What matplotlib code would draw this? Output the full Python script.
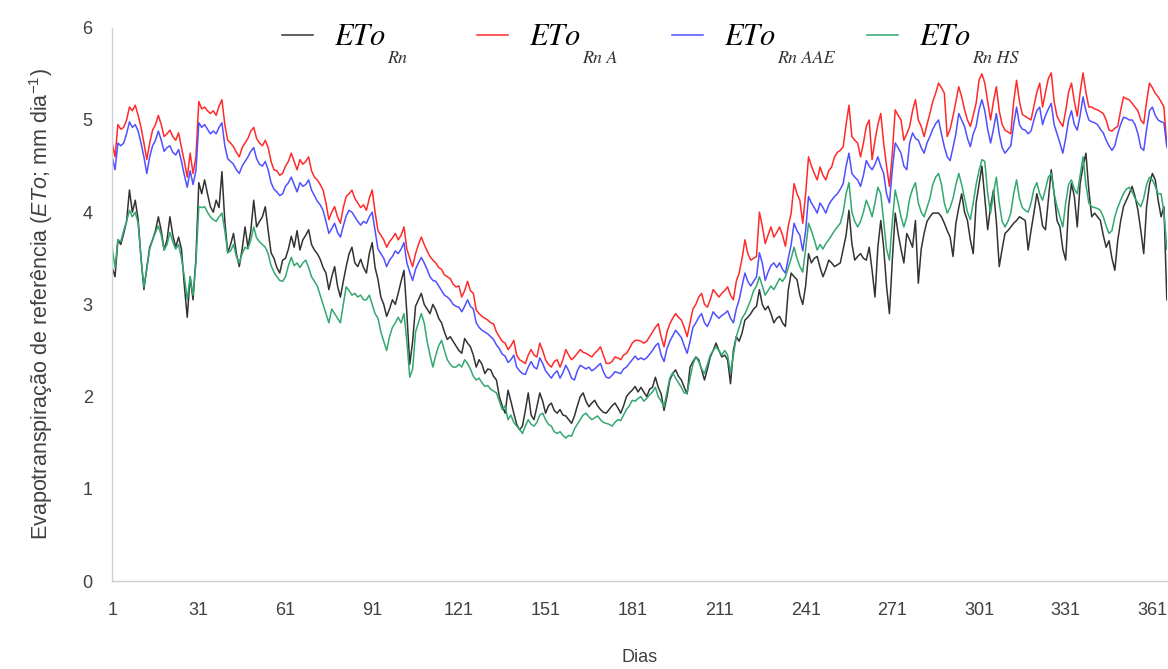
import numpy as np
import matplotlib
matplotlib.use("Agg")
import matplotlib.pyplot as plt

# daily reference evapotranspiration (mm/day), days 1..366
days = np.arange(1, 367)

eto_rn = [
    3.4, 3.3, 3.7, 3.65, 3.77, 3.9, 4.24, 4.0, 4.13, 3.92,
    3.5, 3.16, 3.4, 3.62, 3.7, 3.8, 3.95, 3.8, 3.59, 3.7,
    3.95, 3.75, 3.62, 3.73, 3.6, 3.2, 2.86, 3.3, 3.05, 3.5,
    4.32, 4.2, 4.35, 4.2, 4.06, 4.0, 4.13, 4.05, 4.44, 3.9,
    3.56, 3.65, 3.77, 3.55, 3.41, 3.6, 3.84, 3.62, 3.8, 4.13,
    3.84, 3.9, 3.95, 4.06, 3.8, 3.56, 3.5, 3.4, 3.34, 3.48,
    3.5, 3.6, 3.74, 3.62, 3.8, 3.59, 3.7, 3.75, 3.81, 3.65,
    3.59, 3.55, 3.49, 3.4, 3.34, 3.16, 3.3, 3.41, 3.2, 3.08,
    3.25, 3.41, 3.55, 3.62, 3.45, 3.41, 3.49, 3.4, 3.34, 3.55,
    3.67, 3.4, 3.27, 3.08, 3.0, 2.87, 2.95, 3.05, 3.0, 3.12,
    3.25, 3.37, 2.9, 2.35, 2.6, 2.98, 3.05, 3.12, 3.0, 2.95,
    2.9, 3.0, 2.94, 2.85, 2.8, 2.7, 2.62, 2.65, 2.6, 2.55,
    2.5, 2.47, 2.63, 2.58, 2.54, 2.45, 2.32, 2.4, 2.35, 2.25,
    2.3, 2.29, 2.22, 2.18, 2.0, 1.9, 1.82, 2.07, 1.95, 1.82,
    1.7, 1.64, 1.68, 1.85, 2.04, 1.8, 1.75, 1.89, 2.04, 1.95,
    1.82, 1.9, 1.93, 1.85, 1.82, 1.86, 1.8, 1.79, 1.75, 1.71,
    1.79, 1.9, 2.0, 2.04, 1.95, 1.89, 1.93, 1.96, 1.9, 1.86,
    1.83, 1.82, 1.86, 1.9, 1.93, 1.88, 1.82, 1.9, 2.0, 2.04,
    2.07, 2.11, 2.05, 2.1, 2.05, 2.0, 2.08, 2.1, 2.21, 2.1,
    2.03, 1.85, 2.0, 2.18, 2.25, 2.29, 2.22, 2.18, 2.1, 2.03,
    2.32, 2.38, 2.43, 2.4, 2.29, 2.18, 2.3, 2.43, 2.5, 2.58,
    2.5, 2.43, 2.45, 2.4, 2.14, 2.5, 2.65, 2.6, 2.69, 2.83,
    2.86, 2.9, 2.95, 2.98, 3.16, 3.0, 2.94, 2.98, 2.9, 2.8,
    2.85, 2.87, 2.8, 2.76, 3.16, 3.34, 3.3, 3.27, 3.1, 3.0,
    3.2, 3.55, 3.45, 3.5, 3.52, 3.4, 3.3, 3.38, 3.48, 3.45,
    3.41, 3.43, 3.45, 3.6, 3.75, 4.02, 3.66, 3.48, 3.52, 3.55,
    3.5, 3.48, 3.62, 3.37, 3.08, 3.62, 3.91, 3.62, 3.2, 2.9,
    3.48, 3.99, 3.77, 3.6, 3.45, 3.77, 3.7, 3.62, 3.91, 3.23,
    3.6, 3.77, 3.9, 3.95, 3.99, 3.99, 3.99, 3.95, 3.88, 3.8,
    3.73, 3.52, 3.88, 4.05, 4.2, 4.0, 3.91, 3.7, 3.55, 4.1,
    4.3, 4.5, 4.15, 3.81, 4.06, 4.24, 3.9, 3.41, 3.6, 3.77,
    3.8, 3.84, 3.88, 3.91, 3.95, 3.93, 3.91, 3.59, 3.8, 3.99,
    4.2, 4.06, 3.85, 3.81, 4.13, 4.46, 4.2, 3.91, 3.84, 3.6,
    3.48, 4.06, 4.31, 4.17, 3.84, 4.31, 4.5, 4.64, 4.24, 3.95,
    3.99, 3.95, 3.91, 3.75, 3.62, 3.69, 3.5, 3.37, 3.69, 3.9,
    4.06, 4.13, 4.2, 4.28, 4.17, 4.02, 3.8, 3.55, 4.06, 4.3,
    4.42, 4.35, 4.13, 3.95, 4.06, 3.05,
]

eto_rn_a = [
    4.75, 4.6, 4.95, 4.9, 4.92, 5.0, 5.14, 5.1, 5.16, 5.05,
    4.92, 4.75, 4.57, 4.75, 4.89, 4.95, 5.05, 4.95, 4.82, 4.85,
    4.89, 4.82, 4.78, 4.86, 4.7, 4.55, 4.38, 4.64, 4.42, 4.6,
    5.2, 5.12, 5.14, 5.1, 5.07, 5.1, 5.05, 5.15, 5.22, 4.95,
    4.78, 4.75, 4.71, 4.65, 4.6, 4.7, 4.75, 4.8, 4.88, 4.92,
    4.8, 4.75, 4.72, 4.78, 4.7, 4.55, 4.46, 4.45, 4.4, 4.42,
    4.5, 4.55, 4.64, 4.55, 4.46, 4.57, 4.52, 4.55, 4.6, 4.45,
    4.38, 4.35, 4.3, 4.24, 4.1, 3.92, 4.0, 4.06, 3.95, 3.88,
    4.05, 4.17, 4.2, 4.24, 4.15, 4.1, 4.05, 4.08, 4.02, 4.15,
    4.24, 4.0, 3.8, 3.75, 3.7, 3.62, 3.68, 3.72, 3.77, 3.7,
    3.75, 3.84, 3.6, 3.5, 3.41, 3.55, 3.65, 3.73, 3.65, 3.58,
    3.52, 3.48, 3.45, 3.4, 3.38, 3.32, 3.3, 3.28, 3.22, 3.19,
    3.2, 3.08, 3.15, 3.25, 3.15, 3.12, 2.94, 2.9, 2.87, 2.85,
    2.83, 2.8, 2.79, 2.7, 2.65, 2.6, 2.58, 2.51, 2.55, 2.61,
    2.45, 2.4, 2.38, 2.36, 2.45, 2.51, 2.45, 2.43, 2.58, 2.5,
    2.4, 2.35, 2.32, 2.38, 2.4, 2.32, 2.4, 2.51, 2.45, 2.4,
    2.43, 2.47, 2.51, 2.48, 2.47, 2.45, 2.43, 2.47, 2.5, 2.54,
    2.45, 2.36, 2.36, 2.38, 2.43, 2.42, 2.4, 2.45, 2.47, 2.52,
    2.58, 2.61, 2.61, 2.6, 2.58, 2.6, 2.65, 2.7, 2.75, 2.79,
    2.65, 2.54, 2.7, 2.79, 2.85, 2.9, 2.86, 2.83, 2.75, 2.65,
    2.8, 2.95, 3.0, 3.08, 3.12, 3.0, 2.97, 3.05, 3.16, 3.12,
    3.08, 3.12, 3.15, 3.19, 3.1, 3.05, 3.25, 3.34, 3.5, 3.7,
    3.55, 3.48, 3.5, 3.52, 4.0, 3.85, 3.66, 3.75, 3.84, 3.73,
    3.78, 3.84, 3.75, 3.63, 3.85, 3.99, 4.31, 4.2, 4.13, 3.88,
    4.2, 4.6, 4.5, 4.42, 4.35, 4.49, 4.4, 4.35, 4.45, 4.49,
    4.6, 4.65, 4.67, 4.71, 4.95, 5.16, 4.82, 4.78, 4.75, 4.6,
    4.75, 4.93, 5.0, 4.57, 4.78, 4.95, 5.07, 4.75, 4.5, 4.28,
    4.64, 5.11, 5.05, 5.0, 4.78, 4.85, 4.93, 5.1, 5.22, 5.0,
    4.93, 4.82, 4.95, 5.07, 5.2, 5.29, 5.4, 5.35, 5.29, 4.82,
    4.9, 5.04, 5.2, 5.36, 5.25, 5.11, 5.0, 4.93, 5.05, 5.18,
    5.43, 5.5, 5.4, 5.2, 5.0, 5.2, 5.36, 5.1, 4.95, 4.89,
    4.87, 4.85, 5.2, 5.43, 5.2, 5.06, 5.04, 5.02, 5.0, 5.15,
    5.3, 5.4, 5.14, 5.3, 5.45, 5.51, 5.2, 5.04, 4.98, 4.93,
    5.1, 5.3, 5.4, 5.2, 5.04, 5.3, 5.51, 5.3, 5.14, 5.14,
    5.12, 5.11, 5.09, 5.07, 5.0, 4.89, 4.88, 4.91, 4.93, 5.1,
    5.25, 5.23, 5.22, 5.18, 5.14, 5.1, 5.0, 4.96, 5.2, 5.4,
    5.35, 5.29, 5.25, 5.2, 5.14, 4.71,
]

eto_rn_aae = [
    4.6, 4.46, 4.75, 4.72, 4.75, 4.85, 4.98, 4.92, 4.95, 4.88,
    4.75, 4.6, 4.42, 4.6, 4.72, 4.78, 4.88, 4.78, 4.66, 4.7,
    4.72, 4.65, 4.62, 4.68, 4.55, 4.4, 4.27, 4.45, 4.3, 4.45,
    4.97, 4.92, 4.95, 4.9, 4.85, 4.88, 4.85, 4.92, 4.97, 4.72,
    4.58, 4.55, 4.52, 4.46, 4.42, 4.5, 4.55, 4.6, 4.66, 4.7,
    4.58, 4.52, 4.5, 4.55, 4.46, 4.32, 4.25, 4.22, 4.18, 4.2,
    4.28, 4.32, 4.38, 4.3, 4.22, 4.32, 4.28, 4.3, 4.35, 4.24,
    4.18, 4.12, 4.08, 4.02, 3.9, 3.77, 3.82, 3.88, 3.78, 3.73,
    3.85, 3.96, 4.02, 4.0, 3.95, 3.9, 3.86, 3.9, 3.88, 3.95,
    4.0, 3.8, 3.6, 3.55, 3.5, 3.41, 3.48, 3.52, 3.58, 3.55,
    3.6, 3.67, 3.45, 3.35, 3.26, 3.38, 3.45, 3.51, 3.45, 3.38,
    3.3, 3.26, 3.25, 3.2, 3.15, 3.1, 3.08, 3.05, 3.0, 2.98,
    2.97, 2.92, 2.98, 3.05, 2.98, 2.95, 2.8, 2.75, 2.72, 2.7,
    2.68, 2.65, 2.62, 2.56, 2.52, 2.46, 2.44, 2.37, 2.4, 2.45,
    2.32, 2.28, 2.25, 2.24, 2.32, 2.38, 2.32, 2.3, 2.42, 2.36,
    2.28, 2.24, 2.2, 2.25, 2.28, 2.2, 2.26, 2.34, 2.28, 2.2,
    2.18, 2.28, 2.34, 2.32, 2.3, 2.32, 2.28, 2.3, 2.33, 2.36,
    2.27, 2.21, 2.2, 2.23, 2.27, 2.26, 2.25, 2.3, 2.32, 2.36,
    2.4, 2.44, 2.4, 2.42, 2.4, 2.42, 2.46, 2.5, 2.55, 2.58,
    2.45, 2.38, 2.52, 2.6, 2.66, 2.72, 2.68, 2.64, 2.55, 2.47,
    2.6, 2.75, 2.8, 2.86, 2.9, 2.8, 2.76, 2.83, 2.92, 2.88,
    2.85, 2.88, 2.9, 2.93, 2.85, 2.8, 2.95, 3.05, 3.2, 3.34,
    3.25, 3.2, 3.25, 3.3, 3.56, 3.45, 3.26, 3.35, 3.42, 3.45,
    3.4, 3.45, 3.38, 3.34, 3.5, 3.65, 3.88, 3.8, 3.75, 3.58,
    3.8, 4.17, 4.1, 4.05, 3.99, 4.1, 4.05, 3.99, 4.08, 4.13,
    4.17, 4.2, 4.25, 4.31, 4.5, 4.64, 4.42, 4.38, 4.35, 4.28,
    4.4, 4.56, 4.5, 4.46, 4.52, 4.6, 4.5, 4.42, 4.2, 4.1,
    4.46, 4.75, 4.7, 4.64, 4.5, 4.46, 4.75, 4.86, 4.8, 4.78,
    4.7, 4.64, 4.75, 4.82, 4.9, 4.96, 5.0, 4.85, 4.71, 4.6,
    4.56, 4.7, 4.85, 5.07, 5.0, 4.93, 4.8, 4.71, 4.85, 4.93,
    5.11, 5.22, 5.1, 4.9, 4.75, 4.9, 5.07, 4.85, 4.7, 4.64,
    4.68, 4.72, 4.95, 5.14, 4.95, 4.9, 4.89, 4.85, 4.88, 5.0,
    5.1, 5.14, 4.95, 5.05, 5.12, 5.18, 4.95, 4.85, 4.75, 4.64,
    4.8, 5.0, 5.1, 4.95, 4.89, 5.05, 5.25, 5.1, 5.0, 4.98,
    4.97, 4.95, 4.9, 4.86, 4.78, 4.72, 4.67, 4.72, 4.85, 4.95,
    5.03, 5.02, 5.0, 5.0, 4.95, 4.85, 4.7, 4.67, 4.9, 5.1,
    5.14, 5.05, 5.0, 4.98, 4.97, 4.71,
]

eto_rn_hs = [
    3.62, 3.4, 3.7, 3.68, 3.8, 3.9, 4.02, 3.95, 4.0, 3.88,
    3.5, 3.19, 3.38, 3.6, 3.7, 3.78, 3.85, 3.75, 3.59, 3.65,
    3.78, 3.68, 3.6, 3.65, 3.5, 3.3, 3.05, 3.3, 3.1, 3.45,
    4.06, 4.05, 4.06, 4.0, 3.95, 3.92, 3.9, 3.95, 3.99, 3.8,
    3.56, 3.58, 3.65, 3.52, 3.45, 3.55, 3.62, 3.6, 3.7, 3.84,
    3.72, 3.68, 3.65, 3.62, 3.55, 3.42, 3.35, 3.3, 3.26, 3.25,
    3.3, 3.42, 3.51, 3.42, 3.45, 3.4, 3.45, 3.48, 3.4, 3.3,
    3.25, 3.2, 3.1, 3.0, 2.9, 2.8, 2.95, 2.9, 2.85, 2.8,
    3.0, 3.19, 3.15, 3.1, 3.12, 3.08, 3.1, 3.05, 3.05, 3.1,
    3.0, 2.9, 2.85, 2.7, 2.6, 2.5, 2.65, 2.75, 2.8, 2.86,
    2.8, 2.9, 2.6, 2.21, 2.3, 2.7, 2.8, 2.9, 2.8, 2.6,
    2.45, 2.32, 2.45, 2.55, 2.61, 2.5, 2.4, 2.35, 2.32, 2.32,
    2.35, 2.32, 2.4, 2.36, 2.3, 2.22, 2.18, 2.2, 2.15, 2.11,
    2.12, 2.08, 2.06, 2.04, 1.95, 1.86, 1.9, 1.75, 1.8, 1.72,
    1.68, 1.65, 1.6, 1.68, 1.75, 1.7, 1.68, 1.72, 1.8, 1.82,
    1.75, 1.7, 1.68, 1.62, 1.6, 1.62, 1.58, 1.55, 1.58, 1.57,
    1.65, 1.7, 1.75, 1.8, 1.82, 1.78, 1.75, 1.77, 1.79, 1.75,
    1.72, 1.71, 1.7, 1.68, 1.72, 1.75, 1.74, 1.8, 1.86, 1.9,
    1.96, 1.95, 1.98, 2.0, 1.95, 1.98, 2.02, 2.05, 2.1, 2.0,
    1.95, 1.89, 2.05, 2.2, 2.26, 2.2, 2.15, 2.1, 2.04, 2.04,
    2.2, 2.35, 2.43, 2.38, 2.3, 2.25, 2.35, 2.45, 2.5, 2.54,
    2.5, 2.45, 2.5, 2.45, 2.26, 2.45, 2.65, 2.75, 2.85, 2.9,
    2.97, 3.05, 3.15, 3.2, 3.3, 3.2, 3.1, 3.15, 3.2, 3.16,
    3.22, 3.28, 3.25, 3.3, 3.4, 3.5, 3.62, 3.5, 3.41, 3.35,
    3.6, 3.88, 3.8, 3.7, 3.59, 3.65, 3.6, 3.66, 3.7, 3.75,
    3.8, 3.84, 3.88, 4.0, 4.2, 4.32, 4.0, 3.9, 3.84, 3.9,
    4.0, 4.13, 4.05, 3.95, 4.1, 4.27, 4.2, 3.9, 3.6, 3.48,
    3.9, 4.24, 4.1, 3.95, 3.84, 3.95, 4.15, 4.25, 4.32, 4.1,
    4.0, 3.95, 4.05, 4.15, 4.3, 4.38, 4.42, 4.3, 4.1, 3.99,
    4.05, 4.15, 4.3, 4.42, 4.3, 4.15, 4.0, 3.92, 4.1, 4.3,
    4.45, 4.57, 4.55, 4.2, 3.99, 4.2, 4.38, 4.1, 3.9, 3.84,
    3.9, 3.99, 4.2, 4.35, 4.15, 4.05, 4.02, 4.0, 4.1, 4.25,
    4.32, 4.2, 4.13, 4.25, 4.38, 4.42, 4.2, 4.06, 3.95, 3.84,
    4.1, 4.3, 4.35, 4.25, 4.2, 4.4, 4.6, 4.3, 4.1, 4.06,
    4.05, 4.04, 4.02, 3.95, 3.85, 3.77, 3.8, 3.95, 4.05, 4.13,
    4.2, 4.25, 4.27, 4.22, 4.15, 4.1, 4.06, 4.15, 4.3, 4.38,
    4.35, 4.28, 4.2, 4.2, 4.0, 3.6,
]

subscripts = ["Rn", "Rn A", "Rn AAE", "Rn HS"]
colors = ["#333333", "#ff2a2a", "#5050ff", "#33a870"]
xticks = list(range(1, 367, 30))

plt.rcParams["mathtext.fontset"] = "custom"
plt.rcParams["mathtext.it"] = "STIXGeneral:italic"
plt.rcParams["mathtext.rm"] = "Liberation Sans"
plt.rcParams["mathtext.sf"] = "Liberation Sans:italic"
plt.rcParams["font.family"] = ["Liberation Sans", "DejaVu Sans"]

fig = plt.figure(figsize=(11.68, 6.69), dpi=100)
ax = fig.add_axes([0.096, 0.1315, 0.903, 0.827])

lines = []
for series, sub, col in zip([eto_rn, eto_rn_a, eto_rn_aae, eto_rn_hs], subscripts, colors):
    ln, = ax.plot(days, series, color=col, lw=1.1, label="ETo " + sub)
    lines.append(ln)

ax.set_xlim(1, 366)
ax.set_ylim(0, 6)
ax.set_xticks(xticks)
ax.set_yticks(range(0, 7))

ax.set_xticklabels([str(t) for t in xticks], fontsize=13, color="#404040")
ax.set_yticklabels([str(t) for t in range(0, 7)], fontsize=13, color="#404040")
ax.tick_params(axis="x", length=0, pad=15)
ax.tick_params(axis="y", length=0, pad=14)

for side in ["top", "right"]:
    ax.spines[side].set_visible(False)
for side in ["left", "bottom"]:
    ax.spines[side].set_color("#d0d0d0")
    ax.spines[side].set_linewidth(1.0)

ax.set_xlabel("Dias", fontsize=13, color="#404040", labelpad=22)
ax.set_ylabel(r"Evapotranspiração de referência ($\mathsf{ETo}$; mm dia$^{\mathrm{-1}}$)",
              fontsize=15.5, color="#404040", labelpad=20)

# one legend per series, evenly spaced; the subscript is dropped well below the baseline
legends = []
for i, ln in enumerate(lines):
    x0 = (282 + 195 * i) / 1168
    leg = fig.legend([ln], [r"$ETo$"], loc="center left", bbox_to_anchor=(x0, 0.944),
                     frameon=False, fontsize=22, handlelength=1.0, handletextpad=0.7,
                     borderpad=0, borderaxespad=0)
    legends.append(leg)

fig.canvas.draw()
W, H = fig.bbox.width, fig.bbox.height
for leg, sub in zip(legends, subscripts):
    bb = leg.get_texts()[0].get_window_extent()
    fig.text((bb.x1 + 1) / W, (bb.y0 - 11) / H, sub, family="STIXGeneral",
             style="italic", fontsize=13, color="#333333", va="baseline", ha="left")

fig.savefig("out.png", dpi=100)
